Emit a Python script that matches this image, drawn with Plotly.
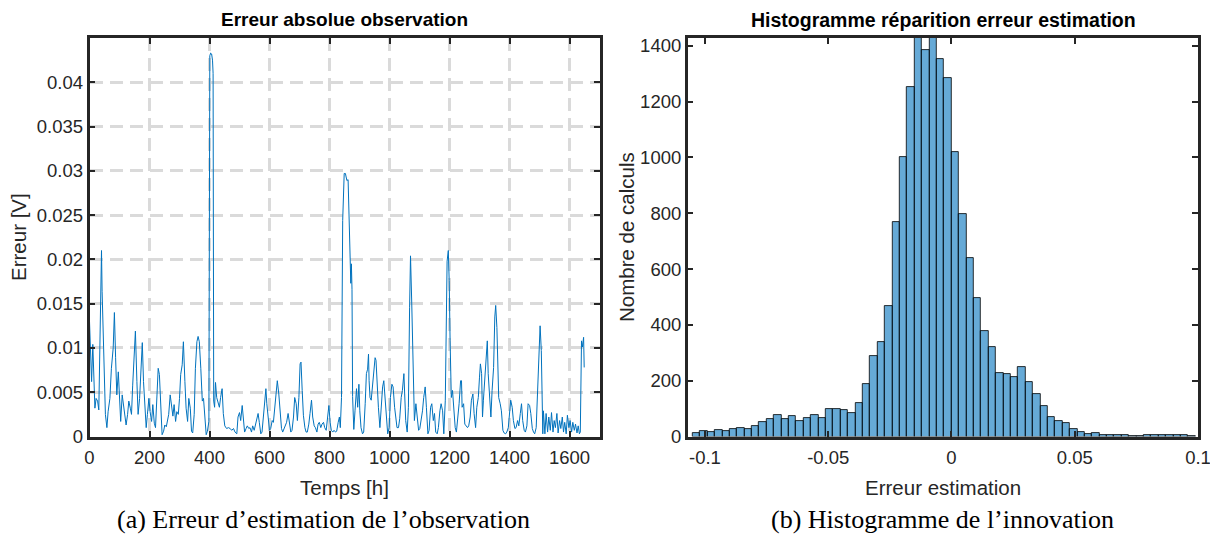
import plotly.graph_objects as go

# ---------------- data: left panel (absolute observation error) ----------------
t_hours = [
    0, 3, 7, 11, 14, 18, 22, 27, 31, 36, 40, 42, 46, 49, 53, 58, 62, 68, 73, 79,
    83, 87, 91, 96, 100, 104, 109, 113, 118, 122, 127, 131, 136, 140, 144, 149, 153, 158, 162, 167,
    171, 176, 180, 184, 189, 193, 198, 202, 207, 211, 216, 220, 224, 229, 233, 238, 242, 247, 251, 256,
    260, 264, 269, 273, 278, 282, 287, 291, 296, 300, 304, 309, 313, 318, 322, 327, 331, 336, 340, 344,
    349, 353, 358, 362, 366, 371, 376, 380, 384, 389, 393, 398, 401, 404, 407, 410, 412, 414, 417, 420,
    424, 429, 433, 437, 442, 446, 451, 457, 463, 469, 474, 480, 485, 491, 495, 500, 504, 509, 513, 517,
    522, 526, 531, 535, 540, 544, 549, 553, 557, 562, 566, 571, 575, 580, 584, 588, 591, 595, 600, 604,
    609, 613, 617, 622, 626, 631, 635, 640, 644, 649, 653, 657, 662, 666, 671, 675, 680, 684, 689, 693,
    698, 702, 705, 709, 713, 718, 722, 726, 731, 735, 740, 744, 749, 753, 758, 762, 766, 771, 775, 780,
    784, 789, 793, 798, 802, 806, 811, 815, 820, 824, 829, 833, 836, 840, 844, 849, 853, 858, 862, 866,
    871, 873, 875, 877, 881, 885, 890, 894, 898, 901, 905, 910, 914, 919, 923, 927, 930, 932, 935, 939,
    943, 948, 952, 955, 959, 963, 968, 972, 977, 981, 985, 990, 994, 999, 1003, 1008, 1012, 1017, 1021, 1025,
    1030, 1034, 1039, 1043, 1048, 1051, 1054, 1059, 1063, 1067, 1070, 1074, 1079, 1083, 1088, 1092, 1097, 1101, 1106, 1110,
    1114, 1119, 1123, 1128, 1132, 1137, 1141, 1146, 1150, 1154, 1159, 1163, 1168, 1172, 1177, 1181, 1186, 1189, 1192, 1196,
    1199, 1202, 1206, 1210, 1214, 1219, 1223, 1228, 1232, 1237, 1240, 1242, 1247, 1251, 1256, 1260, 1264, 1269, 1273, 1278,
    1282, 1287, 1291, 1296, 1300, 1303, 1307, 1310, 1313, 1318, 1322, 1326, 1329, 1333, 1338, 1342, 1347, 1351, 1354, 1358,
    1361, 1364, 1369, 1373, 1378, 1382, 1387, 1391, 1396, 1400, 1404, 1409, 1413, 1418, 1422, 1427, 1431, 1436, 1440, 1444,
    1449, 1453, 1458, 1462, 1467, 1471, 1476, 1480, 1484, 1489, 1493, 1498, 1502, 1506, 1509, 1511, 1513, 1518, 1522, 1527,
    1531, 1536, 1540, 1545, 1549, 1553, 1558, 1562, 1567, 1571, 1576, 1580, 1584, 1589, 1593, 1598, 1602, 1607, 1611, 1616,
    1620, 1625, 1629, 1633, 1636, 1640, 1643, 1647, 1649,
]
err_values = [
    0.0130, 0.0096, 0.0062, 0.0104, 0.0070, 0.0032, 0.0043, 0.0040, 0.0030, 0.0164, 0.0210, 0.0164, 0.0115, 0.0070, 0.0025, 0.0010, 0.0028, 0.0043, 0.0077, 0.0100,
    0.0140, 0.0089, 0.0047, 0.0073, 0.0043, 0.0017, 0.0047, 0.0036, 0.0028, 0.0013, 0.0025, 0.0040, 0.0032, 0.0025, 0.0058, 0.0096, 0.0119, 0.0062, 0.0025, 0.0043,
    0.0077, 0.0106, 0.0062, 0.0032, 0.0010, 0.0025, 0.0043, 0.0028, 0.0017, 0.0036, 0.0015, 0.0010, 0.0040, 0.0077, 0.0070, 0.0025, 0.0002, 0.0006, 0.0013, 0.0011,
    0.0017, 0.0025, 0.0047, 0.0036, 0.0023, 0.0036, 0.0017, 0.0028, 0.0025, 0.0043, 0.0070, 0.0081, 0.0107, 0.0062, 0.0032, 0.0017, 0.0043, 0.0032, 0.0006, 0.0004,
    0.0025, 0.0077, 0.0107, 0.0113, 0.0107, 0.0077, 0.0040, 0.0043, 0.0028, 0.0002, 0.0006, 0.0017, 0.0430, 0.0433, 0.0432, 0.0425, 0.0410, 0.0040, 0.0033, 0.0061,
    0.0044, 0.0037, 0.0033, 0.0044, 0.0054, 0.0026, 0.0012, 0.0009, 0.0010, 0.0009, 0.0007, 0.0009, 0.0005, 0.0003, 0.0022, 0.0027, 0.0018, 0.0035, 0.0014, 0.0005,
    0.0009, 0.0012, 0.0009, 0.0010, 0.0005, 0.0012, 0.0007, 0.0014, 0.0020, 0.0026, 0.0016, 0.0003, 0.0005, 0.0026, 0.0041, 0.0054, 0.0037, 0.0022, 0.0007, 0.0009,
    0.0018, 0.0016, 0.0033, 0.0056, 0.0063, 0.0048, 0.0026, 0.0009, 0.0005, 0.0010, 0.0012, 0.0016, 0.0026, 0.0016, 0.0005, 0.0007, 0.0022, 0.0044, 0.0037, 0.0018,
    0.0044, 0.0082, 0.0084, 0.0052, 0.0024, 0.0010, 0.0005, 0.0005, 0.0014, 0.0026, 0.0041, 0.0022, 0.0012, 0.0010, 0.0005, 0.0014, 0.0016, 0.0010, 0.0014, 0.0016,
    0.0010, 0.0007, 0.0022, 0.0035, 0.0016, 0.0007, 0.0005, 0.0007, 0.0005, 0.0006, 0.0016, 0.0022, 0.0010, 0.0044, 0.0244, 0.0297, 0.0297, 0.0289, 0.0290, 0.0240,
    0.0173, 0.0195, 0.0166, 0.0045, 0.0008, 0.0029, 0.0054, 0.0033, 0.0059, 0.0029, 0.0010, 0.0003, 0.0005, 0.0037, 0.0071, 0.0076, 0.0093, 0.0063, 0.0044, 0.0041,
    0.0056, 0.0074, 0.0089, 0.0086, 0.0048, 0.0033, 0.0010, 0.0029, 0.0056, 0.0063, 0.0041, 0.0026, 0.0003, 0.0010, 0.0044, 0.0059, 0.0056, 0.0033, 0.0018, 0.0010,
    0.0010, 0.0020, 0.0044, 0.0052, 0.0071, 0.0041, 0.0018, 0.0005, 0.0033, 0.0146, 0.0204, 0.0153, 0.0071, 0.0018, 0.0037, 0.0024, 0.0007, 0.0009, 0.0018, 0.0029,
    0.0044, 0.0056, 0.0033, 0.0003, 0.0007, 0.0033, 0.0037, 0.0018, 0.0026, 0.0005, 0.0003, 0.0010, 0.0029, 0.0037, 0.0029, 0.0003, 0.0041, 0.0116, 0.0198, 0.0210,
    0.0176, 0.0108, 0.0044, 0.0052, 0.0029, 0.0010, 0.0005, 0.0022, 0.0037, 0.0063, 0.0063, 0.0033, 0.0037, 0.0014, 0.0012, 0.0010, 0.0012, 0.0022, 0.0041, 0.0048,
    0.0026, 0.0010, 0.0033, 0.0044, 0.0067, 0.0082, 0.0071, 0.0022, 0.0041, 0.0071, 0.0097, 0.0108, 0.0071, 0.0044, 0.0022, 0.0052, 0.0078, 0.0135, 0.0148, 0.0123,
    0.0071, 0.0044, 0.0037, 0.0029, 0.0007, 0.0004, 0.0003, 0.0005, 0.0010, 0.0026, 0.0041, 0.0033, 0.0018, 0.0009, 0.0010, 0.0018, 0.0012, 0.0026, 0.0037, 0.0018,
    0.0007, 0.0005, 0.0012, 0.0037, 0.0035, 0.0026, 0.0009, 0.0005, 0.0003, 0.0010, 0.0048, 0.0089, 0.0125, 0.0097, 0.0022, 0.0003, 0.0029, 0.0003, 0.0026, 0.0005,
    0.0022, 0.0007, 0.0027, 0.0005, 0.0018, 0.0010, 0.0026, 0.0004, 0.0018, 0.0009, 0.0022, 0.0005, 0.0016, 0.0003, 0.0024, 0.0010, 0.0018, 0.0005, 0.0016, 0.0007,
    0.0014, 0.0004, 0.0012, 0.0003, 0.0005, 0.0108, 0.0101, 0.0112, 0.0078,
]

x_ticks_left = [0, 200, 400, 600, 800, 1000, 1200, 1400, 1600]
y_ticks_left = [0, 0.005, 0.01, 0.015, 0.02, 0.025, 0.03, 0.035, 0.04]
y_ticktext_left = ["0", "0.005", "0.01", "0.015", "0.02", "0.025", "0.03", "0.035", "0.04"]

# ---------------- data: right panel (histogram of estimation error) ----------------
bin_first_edge = -0.105
bin_width = 0.003
hist_counts = [
    12, 18, 15, 24, 20, 27, 29, 26, 36, 51,
    63, 77, 61, 73, 54, 68, 76, 67, 99, 97,
    94, 83, 119, 187, 287, 337, 469, 770, 1001, 1253,
    1480, 1386, 1460, 1351, 1283,
    1019, 798, 641, 498, 377, 319, 226, 224, 212, 248,
    197, 151, 110, 69, 55, 50, 26, 15, 8, 11,
    7, 6, 7, 5, 2, 2, 4, 4, 7, 4,
    4, 4, 2,
]
bin_centers = [bin_first_edge + bin_width * (i + 0.5) for i in range(len(hist_counts))]

x_ticks_right = [-0.1, -0.05, 0, 0.05, 0.1]
x_ticktext_right = ["-0.1", "-0.05", "0", "0.05", "0.1"]
y_ticks_right = [0, 200, 400, 600, 800, 1000, 1200, 1400]

# ---------------- figure ----------------
# the html page has an 8 px body margin; size the figure so it fits the window
OFF = 8
W, H = 1218 - OFF, 540 - OFF
AX = "#262626"
SANS = "Liberation Sans, Arial, Helvetica, sans-serif"
SERIF = "Liberation Serif, Times New Roman, DejaVu Serif, serif"

def px_x(p):
    return (p - OFF) / W

def px_y(p):
    return 1 - (p - OFF) / H

fig = go.Figure()
fig.add_trace(go.Scatter(
    x=t_hours, y=err_values, mode="lines",
    line=dict(color="#0072BD", width=1),
    xaxis="x", yaxis="y", showlegend=False, hoverinfo="skip",
))
fig.add_trace(go.Bar(
    x=bin_centers, y=hist_counts, width=bin_width,
    marker=dict(color="rgba(0,114,189,0.6)", line=dict(color="black", width=0.8)),
    xaxis="x2", yaxis="y2", showlegend=False, hoverinfo="skip",
))

common = dict(
    showline=True, linewidth=2.5, linecolor=AX, mirror="ticks",
    ticks="inside", ticklen=6, tickwidth=2, tickcolor=AX,
    zeroline=False, tickfont=dict(family=SANS, size=18.5, color=AX),
    fixedrange=True, automargin=False,
)
grid = dict(showgrid=True, gridcolor="#dadada", gridwidth=2.5, griddash="13px,7px")

top_px, bot_px = 38, 436.5
ydom = [px_y(bot_px), px_y(top_px)]

fig.update_layout(
    template="none",
    width=W, height=H,
    margin=dict(l=0, r=0, t=0, b=0, autoexpand=False),
    paper_bgcolor="white", plot_bgcolor="white",
    bargap=0,
    xaxis=dict(domain=[px_x(89.5), px_x(599.5)], range=[0, 1700],
               tickvals=x_ticks_left, anchor="y", ticklabelstandoff=3,
               **common, **grid),
    yaxis=dict(domain=ydom, range=[0, 0.045], tickvals=y_ticks_left,
               ticktext=y_ticktext_left, anchor="x", **common, **grid),
    xaxis2=dict(domain=[px_x(687.7), px_x(1198)], range=[-0.107, 0.1],
                tickvals=x_ticks_right, ticktext=x_ticktext_right,
                anchor="y2", showgrid=False, ticklabelstandoff=3, **common),
    yaxis2=dict(domain=ydom, range=[0, 1428], tickvals=y_ticks_right,
                anchor="x2", showgrid=False, **common),
)

ann = []
def text(x, y, s, size, family=SANS, color="black", angle=0):
    ann.append(dict(x=px_x(x), y=px_y(y), xref="paper", yref="paper",
                    text=s, showarrow=False, textangle=angle,
                    xanchor="center", yanchor="middle",
                    font=dict(family=family, size=size, color=color)))

text(344.5, 20, "<b>Erreur absolue observation</b>", 19)
text(943, 20, "<b>Histogramme réparition erreur estimation</b>", 19.5)
text(344.5, 487, "Temps [h]", 20.5, color=AX)
text(943, 487, "Erreur estimation", 20.5, color=AX)
text(18, 237, "Erreur [V]", 20.5, color=AX, angle=-90)
text(626, 237, "Nombre de calculs", 20.5, color=AX, angle=-90)
text(323.5, 519, "(a) Erreur d’estimation de l’observation", 26, family=SERIF)
text(942.5, 519, "(b) Histogramme de l’innovation", 26, family=SERIF)
fig.update_layout(annotations=ann)

fig.write_html("out.html")
